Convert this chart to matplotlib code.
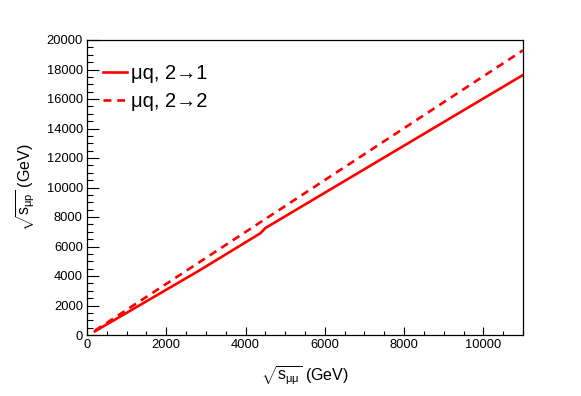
import matplotlib
matplotlib.use("Agg")
import matplotlib.pyplot as plt
from matplotlib.ticker import MultipleLocator

plt.rcParams['font.family'] = ['Liberation Sans', 'DejaVu Sans']
plt.rcParams['mathtext.fontset'] = 'custom'
plt.rcParams['mathtext.rm'] = 'Liberation Sans'
plt.rcParams['mathtext.it'] = 'Liberation Sans'
plt.rcParams['mathtext.sf'] = 'Liberation Sans'

# data
s_mumu_21 = [200, 2850, 4370, 4500, 11000]
s_mup_21 = [250, 4400, 6890, 7250, 17630]
s_mumu_22 = [200, 11000]
s_mup_22 = [300, 19300]
labels = ['μq, 2→1', 'μq, 2→2']

fig = plt.figure(figsize=(5.81, 3.96), dpi=100)
ax = fig.add_axes([87/581, 1-335/396, (523-87)/581, (335-40)/396])

ax.plot(s_mumu_21, s_mup_21, color='#ff0000', lw=1.9, label=labels[0])
ax.plot(s_mumu_22, s_mup_22, color='#ff0000', lw=1.9, ls=(0, (3, 2.2)), label=labels[1])

ax.set_xlim(0, 11000)
ax.set_ylim(0, 20000)
ax.xaxis.set_major_locator(MultipleLocator(2000))
ax.xaxis.set_minor_locator(MultipleLocator(500))
ax.yaxis.set_major_locator(MultipleLocator(2000))
ax.yaxis.set_minor_locator(MultipleLocator(500))
ax.tick_params(which='both', direction='in', top=False, right=False, labelsize=9.3, pad=3, width=0.8)
ax.tick_params(axis='x', which='major', length=5.8)
ax.tick_params(axis='x', which='minor', length=2.9)
ax.tick_params(axis='y', which='major', length=8.6)
ax.tick_params(axis='y', which='minor', length=4.3)
for sp in ax.spines.values():
    sp.set_linewidth(0.9)

ax.set_xlabel(r'$\sqrt{s_{\mu\mu}}$ (GeV)', fontsize=11.5, labelpad=9)
ax.set_ylabel(r'$\sqrt{s_{\mu p}}$ (GeV)', fontsize=11.5, labelpad=7)

ax.legend(loc='upper left', frameon=False, fontsize=14.5, handlelength=1.2,
          handletextpad=0.2, labelspacing=0.45, bbox_to_anchor=(0.018, 0.945), borderaxespad=0)

fig.savefig('out.png', dpi=100)
